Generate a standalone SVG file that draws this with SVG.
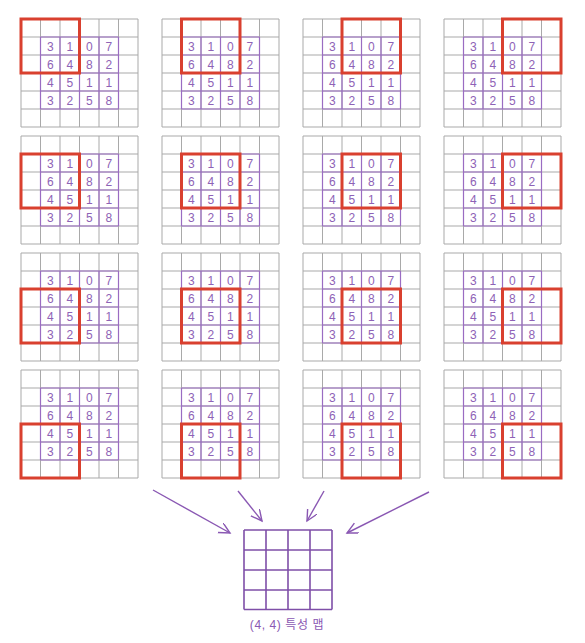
<svg xmlns="http://www.w3.org/2000/svg" xmlns:xlink="http://www.w3.org/1999/xlink" width="585" height="643" viewBox="0 0 585 643">
<style>
.gray{fill:none;stroke:#a9a9a9;stroke-width:1}
.purp{fill:none;stroke:#9a6cc2;stroke-width:1.2}
.num{font-family:"Liberation Sans","DejaVu Sans",sans-serif;font-size:12px;fill:#8e62b6;text-anchor:middle}
.red{fill:none;stroke:#d9402f;stroke-width:3}
.arrow{fill:none;stroke:#8a58b3;stroke-width:1.4}
.out{fill:none;stroke:#7f4fa8;stroke-width:1.6}
.label{font-family:"Liberation Sans","Noto Sans CJK KR",sans-serif;font-size:12px;letter-spacing:0.6px;fill:#8a58b3;text-anchor:middle}
</style>
<defs>
<marker id="ah" markerWidth="13" markerHeight="13" refX="11" refY="5.5" orient="auto" markerUnits="userSpaceOnUse">
<path d="M0,0 L11,5.5 L0,11" fill="none" stroke="#8a58b3" stroke-width="1.4"/>
</marker>
<g id="grid">
<path class="gray" d="M0,0H117M0,18H117M0,36H117M0,54H117M0,72H117M0,90H117M0,108H117M0,0V108M19.5,0V108M39,0V108M58.5,0V108M78,0V108M97.5,0V108M117,0V108"/>
<path class="purp" d="M19.5,18H97.5M19.5,36H97.5M19.5,54H97.5M19.5,72H97.5M19.5,90H97.5M19.5,18V90M39,18V90M58.5,18V90M78,18V90M97.5,18V90"/>
<text class="num" x="29.25" y="31.5">3</text><text class="num" x="48.75" y="31.5">1</text><text class="num" x="68.25" y="31.5">0</text><text class="num" x="87.75" y="31.5">7</text>
<text class="num" x="29.25" y="49.5">6</text><text class="num" x="48.75" y="49.5">4</text><text class="num" x="68.25" y="49.5">8</text><text class="num" x="87.75" y="49.5">2</text>
<text class="num" x="29.25" y="67.5">4</text><text class="num" x="48.75" y="67.5">5</text><text class="num" x="68.25" y="67.5">1</text><text class="num" x="87.75" y="67.5">1</text>
<text class="num" x="29.25" y="85.5">3</text><text class="num" x="48.75" y="85.5">2</text><text class="num" x="68.25" y="85.5">5</text><text class="num" x="87.75" y="85.5">8</text>
</g>
</defs>

<g id="panel-1-1" transform="translate(21,19)"><use xlink:href="#grid"/><rect class="red" x="0" y="0" width="58.5" height="54"/></g>
<g id="panel-1-2" transform="translate(162,19)"><use xlink:href="#grid"/><rect class="red" x="19.5" y="0" width="58.5" height="54"/></g>
<g id="panel-1-3" transform="translate(303,19)"><use xlink:href="#grid"/><rect class="red" x="39" y="0" width="58.5" height="54"/></g>
<g id="panel-1-4" transform="translate(444,19)"><use xlink:href="#grid"/><rect class="red" x="58.5" y="0" width="58.5" height="54"/></g>

<g id="panel-2-1" transform="translate(21,136)"><use xlink:href="#grid"/><rect class="red" x="0" y="18" width="58.5" height="54"/></g>
<g id="panel-2-2" transform="translate(162,136)"><use xlink:href="#grid"/><rect class="red" x="19.5" y="18" width="58.5" height="54"/></g>
<g id="panel-2-3" transform="translate(303,136)"><use xlink:href="#grid"/><rect class="red" x="39" y="18" width="58.5" height="54"/></g>
<g id="panel-2-4" transform="translate(444,136)"><use xlink:href="#grid"/><rect class="red" x="58.5" y="18" width="58.5" height="54"/></g>

<g id="panel-3-1" transform="translate(21,253)"><use xlink:href="#grid"/><rect class="red" x="0" y="36" width="58.5" height="54"/></g>
<g id="panel-3-2" transform="translate(162,253)"><use xlink:href="#grid"/><rect class="red" x="19.5" y="36" width="58.5" height="54"/></g>
<g id="panel-3-3" transform="translate(303,253)"><use xlink:href="#grid"/><rect class="red" x="39" y="36" width="58.5" height="54"/></g>
<g id="panel-3-4" transform="translate(444,253)"><use xlink:href="#grid"/><rect class="red" x="58.5" y="36" width="58.5" height="54"/></g>

<g id="panel-4-1" transform="translate(21,370)"><use xlink:href="#grid"/><rect class="red" x="0" y="54" width="58.5" height="54"/></g>
<g id="panel-4-2" transform="translate(162,370)"><use xlink:href="#grid"/><rect class="red" x="19.5" y="54" width="58.5" height="54"/></g>
<g id="panel-4-3" transform="translate(303,370)"><use xlink:href="#grid"/><rect class="red" x="39" y="54" width="58.5" height="54"/></g>
<g id="panel-4-4" transform="translate(444,370)"><use xlink:href="#grid"/><rect class="red" x="58.5" y="54" width="58.5" height="54"/></g>

<g id="connectors">
<line class="arrow" x1="153" y1="490" x2="230" y2="533" marker-end="url(#ah)"/>
<line class="arrow" x1="238" y1="491" x2="262" y2="521" marker-end="url(#ah)"/>
<line class="arrow" x1="324" y1="491" x2="307" y2="521" marker-end="url(#ah)"/>
<line class="arrow" x1="429" y1="492" x2="347" y2="533" marker-end="url(#ah)"/>
</g>

<g id="feature-map">
<path class="out" d="M244,530H332M244,550H332M244,570H332M244,590H332M244,609.5H332M244,530V609.5M266,530V609.5M288,530V609.5M310,530V609.5M332,530V609.5"/>
<text class="label" x="287" y="629">(4, 4) 특성 맵</text>
</g>
</svg>
